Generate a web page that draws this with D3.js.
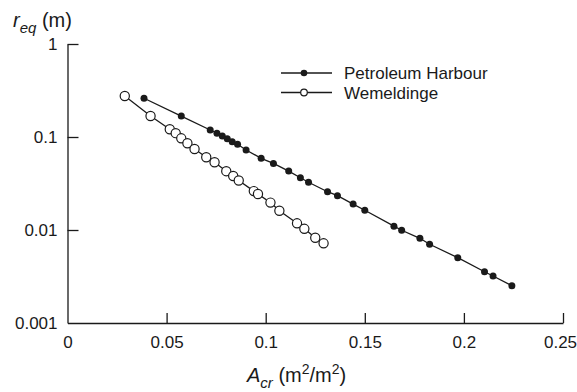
<!DOCTYPE html>
<html>
<head>
<meta charset="utf-8">
<title>r_eq vs A_cr</title>
<script src="https://d3js.org/d3.v7.min.js"></script>
<style>
  body { margin: 0; background: #fff; }
  svg text { font-family: "Liberation Sans", Arial, Helvetica, sans-serif; fill: #1a1a1a; }
</style>
</head>
<body>
<svg id="chart" width="577" height="392"></svg>
<script>

// Petroleum Harbour (filled markers)
var phX = [0.0386, 0.0574, 0.0720, 0.0754, 0.0781, 0.0806, 0.0831, 0.0858, 0.0901, 0.0977,
           0.1039, 0.1116, 0.1175, 0.1216, 0.1312, 0.1362, 0.1441, 0.1500, 0.1647, 0.1686,
           0.1778, 0.1827, 0.1969, 0.2104, 0.2147, 0.2242];
var phY = [0.261, 0.168, 0.119, 0.110, 0.1025, 0.096, 0.089, 0.0835, 0.0725, 0.059,
           0.052, 0.043, 0.0365, 0.0326, 0.0258, 0.0234, 0.019, 0.0163, 0.0110, 0.00993,
           0.00814, 0.00702, 0.00504, 0.00356, 0.00320, 0.00252];

// Wemeldinge (open markers)
var wmX = [0.0289, 0.0419, 0.0516, 0.0546, 0.0574, 0.0605, 0.0641, 0.0700, 0.0742, 0.0801,
           0.0836, 0.0864, 0.0940, 0.0961, 0.1024, 0.1069, 0.1158, 0.1195, 0.1250, 0.1292];
var wmY = [0.276, 0.168, 0.121, 0.110, 0.0968, 0.0856, 0.0743, 0.0605, 0.0535, 0.0429,
           0.0381, 0.0341, 0.0262, 0.0244, 0.0197, 0.0161, 0.0118, 0.0103, 0.00826, 0.00719];

var xTicks = [0, 0.05, 0.1, 0.15, 0.2, 0.25];
var xTickLabels = ["0", "0.05", "0.1", "0.15", "0.2", "0.25"];
var yTicks = [1, 0.1, 0.01, 0.001];
var yTickLabels = ["1", "0.1", "0.01", "0.001"];

var seriesNames = ["Petroleum Harbour", "Wemeldinge"];

var svg = d3.select("#chart");

var x = d3.scaleLinear().domain([0, 0.25]).range([67.5, 563]);
var y = d3.scaleLog().domain([0.001, 1]).range([323, 44]);

// axes, ticks pointing inward
var xAxis = d3.axisBottom(x)
    .tickValues(xTicks)
    .tickFormat(function(d, i) { return xTickLabels[i]; })
    .tickSizeInner(-10)
    .tickSizeOuter(0)
    .tickPadding(13);

var yAxis = d3.axisLeft(y)
    .tickValues(yTicks)
    .tickFormat(function(d, i) { return yTickLabels[i]; })
    .tickSizeInner(-11)
    .tickSizeOuter(0)
    .tickPadding(10);

var gx = svg.append("g").attr("transform", "translate(0,323)").call(xAxis);
var gy = svg.append("g").attr("transform", "translate(67.5,0)").call(yAxis);

[gx, gy].forEach(function(g) {
    g.selectAll("path, line").attr("stroke", "#1a1a1a").attr("stroke-width", 1.3);
    g.selectAll("text").style("font-size", "17px").attr("fill", "#1a1a1a");
});
// no tick line at the corner
gx.selectAll(".tick").filter(function(d) { return d === 0; }).select("line").remove();
gy.selectAll(".tick").filter(function(d) { return d === 0.001; }).select("line").remove();
// last label sits against the page edge
gx.selectAll(".tick").filter(function(d) { return d === 0.25; }).select("text").attr("dx", -3);

var line = d3.line()
    .x(function(d) { return x(d[0]); })
    .y(function(d) { return y(d[1]); });

var ph = d3.zip(phX, phY);
var wm = d3.zip(wmX, wmY);

svg.append("path").attr("d", line(ph))
    .attr("fill", "none").attr("stroke", "#1a1a1a").attr("stroke-width", 1.3);
svg.append("path").attr("d", line(wm))
    .attr("fill", "none").attr("stroke", "#1a1a1a").attr("stroke-width", 1.3);

svg.append("g").selectAll("circle")
    .data(wm).enter().append("circle")
    .attr("cx", function(d) { return x(d[0]); })
    .attr("cy", function(d) { return y(d[1]); })
    .attr("r", 4.6)
    .attr("fill", "#fff")
    .attr("stroke", "#1a1a1a")
    .attr("stroke-width", 1.2);

svg.append("g").selectAll("circle")
    .data(ph).enter().append("circle")
    .attr("cx", function(d) { return x(d[0]); })
    .attr("cy", function(d) { return y(d[1]); })
    .attr("r", 3.5)
    .attr("fill", "#1a1a1a");

// legend
var leg = svg.append("g");
seriesNames.forEach(function(name, i) {
    var ly = 73 + i * 19.5;
    leg.append("line").attr("x1", 281).attr("x2", 332).attr("y1", ly).attr("y2", ly)
        .attr("stroke", "#1a1a1a").attr("stroke-width", 1.3);
    leg.append("circle").attr("cx", 304).attr("cy", ly).attr("r", 3.3)
        .attr("fill", i === 0 ? "#1a1a1a" : "#fff")
        .attr("stroke", "#1a1a1a").attr("stroke-width", i === 0 ? 0 : 1.2);
    leg.append("text").attr("x", 344).attr("y", ly + 6)
        .style("font-size", "17px").text(name);
});

// axis titles
var yt = svg.append("text").attr("x", 13).attr("y", 27).style("font-size", "20px");
yt.append("tspan").style("font-style", "italic").text("r");
yt.append("tspan").style("font-style", "italic").style("font-size", "15px").attr("dy", 6).text("eq");
yt.append("tspan").attr("dy", -6).text(" (m)");

var xt = svg.append("text").attr("x", 247).attr("y", 382).style("font-size", "20px");
xt.append("tspan").style("font-style", "italic").text("A");
xt.append("tspan").style("font-style", "italic").style("font-size", "15px").attr("dy", 6).text("cr");
xt.append("tspan").attr("dy", -6).text(" (m");
xt.append("tspan").style("font-size", "14px").attr("dy", -8).text("2");
xt.append("tspan").attr("dy", 8).text("/m");
xt.append("tspan").style("font-size", "14px").attr("dy", -8).text("2");
xt.append("tspan").attr("dy", 8).text(")");

</script>
</body>
</html>
